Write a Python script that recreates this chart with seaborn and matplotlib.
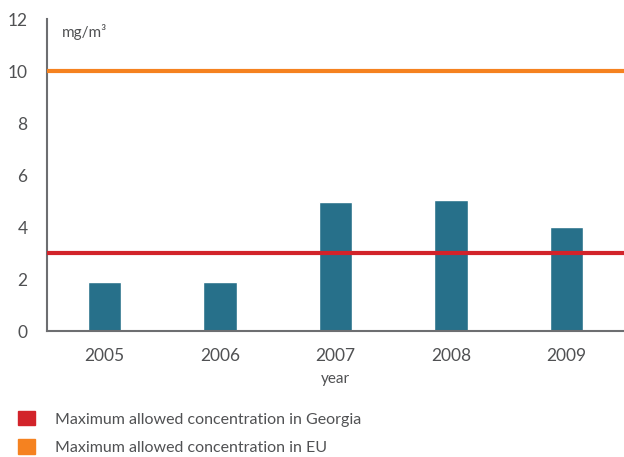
import numpy as np
import pandas as pd
import seaborn as sns
import matplotlib.pyplot as plt
from matplotlib.patches import Patch

# data
years = ['2005', '2006', '2007', '2008', '2009']
values = [1.9, 1.9, 4.95, 5.03, 4.0]
limit_georgia = 3
limit_eu = 10

bar_color = '#27708a'
red = '#d2232a'
orange = '#f58220'
axis_gray = '#6d6e71'
text_gray = '#505153'

sns.set_style('white')
plt.rcParams['font.family'] = ['Lato', 'DejaVu Sans']

df = pd.DataFrame({'year': years, 'value': values})

fig = plt.figure(figsize=(6.24, 4.57), dpi=100)
ax = fig.add_axes([0.0753, 0.2757, 0.9247, 0.6826])

sns.barplot(data=df, x='year', y='value', color=bar_color, width=0.29,
            saturation=1, ax=ax)

ax.axhline(limit_georgia, color=red, lw=3, zorder=3)
ax.axhline(limit_eu, color=orange, lw=3, zorder=3)

ax.set_xlim(-0.5, 4.5)
ax.set_ylim(0, 12)
ax.set_yticks([0, 2, 4, 6, 8, 10, 12])

# ticks between categories
ax.set_xticks(np.arange(-0.5, 5, 1), minor=True)
ax.tick_params(axis='x', which='major', length=0, pad=12, labelsize=12.5, colors=text_gray)
ax.tick_params(axis='x', which='minor', length=10, width=1.2, color=axis_gray, direction='out')
ax.tick_params(axis='y', length=8, width=1.2, color=axis_gray, labelsize=12.5,
               labelcolor=text_gray, pad=6, direction='out')

for s in ['top', 'right']:
    ax.spines[s].set_visible(False)
for s in ['left', 'bottom']:
    ax.spines[s].set_color(axis_gray)
    ax.spines[s].set_linewidth(1.5)

ax.set_xlabel('year', color=text_gray, fontsize=11, labelpad=6)
ax.set_ylabel('')
ax.text(0.026, 0.985, 'mg/m³', transform=ax.transAxes, color=text_gray,
        fontsize=11, va='top', ha='left')

handles = [Patch(color=red, label='Maximum allowed concentration in Georgia'),
           Patch(color=orange, label='Maximum allowed concentration in EU')]
fig.legend(handles=handles, loc='lower left', bbox_to_anchor=(0.029, 0.004),
           frameon=False, fontsize=11.5, labelcolor=text_gray,
           handlelength=1.05, handleheight=1.05, handletextpad=1.25,
           labelspacing=0.8, borderpad=0, borderaxespad=0)

fig.savefig('out.png', dpi=100)
